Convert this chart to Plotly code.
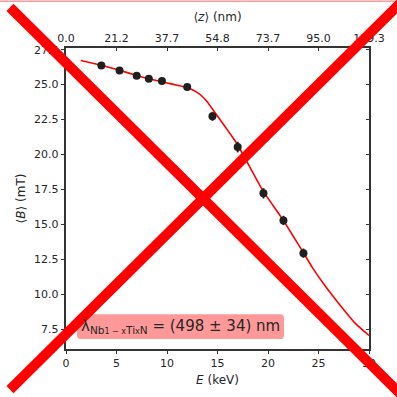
import plotly.graph_objects as go

# measured data
energy = [3.5, 5.3, 7.0, 8.2, 9.5, 12.0, 14.5, 17.0, 19.55, 21.53, 23.51]
field = [26.37, 26.01, 25.63, 25.42, 25.25, 24.83, 22.73, 20.53, 17.22, 15.28, 12.94]
field_err = [0.15, 0.15, 0.15, 0.15, 0.15, 0.15, 0.32, 0.38, 0.37, 0.33, 0.33]

# fit curve
fit_e = [1.46, 3.5, 5.3, 7.0, 8.2, 9.5, 10.3, 11.0, 11.7, 12.3, 12.9, 13.5, 14.0, 14.6, 15.6, 16.6,
         17.0, 18.2, 19.5, 20.5, 21.5, 22.5, 23.5, 24.4, 25.5, 26.5, 27.5, 28.5, 29.3, 30.0]
fit_b = [26.72, 26.38, 26.03, 25.65, 25.42, 25.2, 25.07, 24.96, 24.84, 24.70, 24.48, 24.15, 23.75, 23.15,
         22.15, 21.12, 20.68, 19.1, 17.4, 16.35, 15.3, 14.15, 12.98, 11.9, 10.75, 9.8, 8.88, 8.02, 7.48, 7.05]

# top axis tick labels
top_ticks = [0, 5, 10, 15, 20, 25, 30]
top_labels = ["0.0", "21.2", "37.7", "54.8", "73.7", "95.0", "119.3"]
y_ticks = [7.5, 10.0, 12.5, 15.0, 17.5, 20.0, 22.5, 25.0, 27.5]

W = H = 397
ML, MR, MT, MB = 66, 28, 48, 45
PW = W - ML - MR
PH = H - MT - MB


def px(x):
    return (x - ML) / PW


def py(y):
    return (H - MB - y) / PH


FONT = "DejaVu Sans"
TXT = "#262626"
AX = "#333333"

fig = go.Figure()
fig.add_trace(go.Scatter(x=fit_e, y=fit_b, mode="lines",
                         line=dict(color="red", width=1.6, shape="spline", smoothing=0.35),
                         hoverinfo="skip", showlegend=False))
fig.add_trace(go.Scatter(x=energy, y=field, mode="markers",
                         marker=dict(color="#1f1f1f", size=8),
                         error_y=dict(type="data", array=field_err, color="#1f1f1f", thickness=2, width=0),
                         showlegend=False))
fig.add_trace(go.Scatter(x=[0], y=[20], xaxis="x2", yaxis="y2", mode="markers",
                         marker=dict(opacity=0), hoverinfo="skip", showlegend=False))

axis_common = dict(showgrid=False, zeroline=False, showline=True, linecolor=AX, linewidth=1.5,
                   tickcolor=AX, tickwidth=1.2, ticklen=3.5,
                   tickfont=dict(family=FONT, size=11, color=TXT))

fig.update_layout(
    width=W, height=H,
    margin=dict(l=ML, r=MR, t=MT, b=MB, pad=0),
    plot_bgcolor="white", paper_bgcolor="white",
    font=dict(family=FONT, color=TXT),
    xaxis=dict(range=[0, 30], tickvals=[0, 5, 10, 15, 20, 25, 30], ticks="outside",
               title=dict(text="<i>E</i> (keV)", font=dict(family=FONT, size=12, color=TXT), standoff=6),
               **axis_common),
    xaxis2=dict(range=[0, 30], overlaying="x", side="top", tickvals=top_ticks, ticktext=top_labels,
                ticks="inside", title=dict(text="⟨<i>z</i>⟩ (nm)", font=dict(family=FONT, size=12, color=TXT), standoff=8),
                **axis_common),
    yaxis=dict(range=[6.08, 27.62], tickvals=y_ticks, tickformat=".1f", ticks="outside",
               title=dict(text="⟨<i>B</i>⟩ (mT)", font=dict(family=FONT, size=12, color=TXT), standoff=6),
               **axis_common),
    yaxis2=dict(range=[6.08, 27.62], overlaying="y", side="right", tickvals=y_ticks,
                showticklabels=False, ticks="inside", **axis_common),
)

# rounded label box
x0, x1, y0, y1, r = 77, 284, 317, 342, 4
path = (f"M {px(x0 + r)},{py(y0)} L {px(x1 - r)},{py(y0)} Q {px(x1)},{py(y0)} {px(x1)},{py(y0 + r)} "
        f"L {px(x1)},{py(y1 - r)} Q {px(x1)},{py(y1)} {px(x1 - r)},{py(y1)} "
        f"L {px(x0 + r)},{py(y1)} Q {px(x0)},{py(y1)} {px(x0)},{py(y1 - r)} "
        f"L {px(x0)},{py(y0 + r)} Q {px(x0)},{py(y0)} {px(x0 + r)},{py(y0)} Z")
fig.add_shape(type="path", xref="paper", yref="paper", path=path,
              fillcolor="#ff9999", line=dict(width=0), layer="above")
fig.add_annotation(xref="paper", yref="paper", x=px((x0 + x1) / 2), y=py((y0 + y1) / 2),
                   text=("λ<sub>Nb<span style='font-size:8px'>1 − x</span>"
                         "Ti<span style='font-size:8px'>x</span>N</sub> = (498 ± 34) nm"),
                   showarrow=False, font=dict(family=FONT, size=15, color=TXT),
                   xanchor="center", yanchor="middle")

# top pink strip
fig.add_shape(type="rect", xref="paper", yref="paper", x0=px(0), x1=px(W), y0=py(0), y1=py(1.5),
              fillcolor="#ff9999", line=dict(width=0), layer="above")

# big red cross
fig.add_shape(type="line", xref="paper", yref="paper", x0=px(10), y0=py(7), x1=px(402), y1=py(399),
              line=dict(color="red", width=10), layer="above")
fig.add_shape(type="line", xref="paper", yref="paper", x0=px(10), y0=py(393), x1=px(402), y1=py(1),
              line=dict(color="red", width=10), layer="above")

fig.write_html("out.html")
